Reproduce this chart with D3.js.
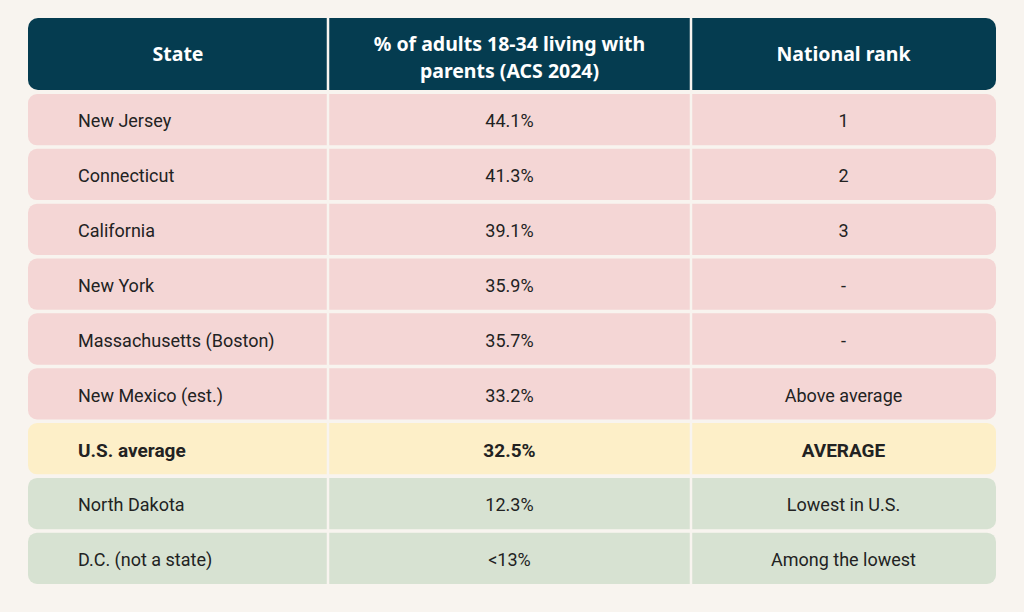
<!DOCTYPE html>
<html>
<head>
<meta charset="utf-8">
<script src="https://cdn.jsdelivr.net/npm/d3@7"></script>
<style>
  body { margin: 0; background: #f8f4ef; }
  svg { display: block; }
  .hdr { font-family: "Noto Sans", sans-serif; font-weight: 700; font-size: 19.5px; fill: #ffffff; }
  .cell { font-family: Roboto, "Noto Sans", sans-serif; font-size: 18px; fill: #222222; }
  .cell.bold { font-weight: 700; font-size: 19px; }
</style>
</head>
<body>
<div id="graphic"></div>
<script>
// table data
var headers = [["State"], ["% of adults 18-34 living with", "parents (ACS 2024)"], ["National rank"]];
var states = ["New Jersey", "Connecticut", "California", "New York", "Massachusetts (Boston)",
  "New Mexico (est.)", "U.S. average", "North Dakota", "D.C. (not a state)"];
var shares = ["44.1%", "41.3%", "39.1%", "35.9%", "35.7%", "33.2%", "32.5%", "12.3%", "<13%"];
var ranks = ["1", "2", "3", "-", "-", "Above average", "AVERAGE", "Lowest in U.S.", "Among the lowest"];
var groups = ["above", "above", "above", "above", "above", "above", "avg", "below", "below"];

var width = 1024, height = 612;
var left = 28, right = 996;
var colEdges = [28, 328, 691, 996];
var fills = { above: "#f4d6d5", avg: "#fdefc8", below: "#d7e2d2" };

var svg = d3.select("#graphic").append("svg")
  .attr("width", width).attr("height", height);

svg.append("rect").attr("width", width).attr("height", height).attr("fill", "#f8f4ef");

// header
svg.append("rect")
  .attr("x", left).attr("y", 18)
  .attr("width", right - left).attr("height", 72)
  .attr("rx", 10).attr("fill", "#053c50");

var y = d3.scaleBand()
  .domain(d3.range(states.length))
  .range([94, 584])
  .paddingInner(0.065)
  .paddingOuter(0);

var rows = svg.selectAll("g.row")
  .data(states.map((s, i) => ({ state: s, share: shares[i], rank: ranks[i], group: groups[i] })))
  .join("g")
  .attr("class", "row")
  .attr("transform", (d, i) => "translate(0," + y(i) + ")");

rows.append("rect")
  .attr("x", left)
  .attr("width", right - left)
  .attr("height", y.bandwidth())
  .attr("rx", 9)
  .attr("fill", d => fills[d.group]);

// column dividers
[colEdges[1], colEdges[2]].forEach(function(cx) {
  svg.append("line")
    .attr("x1", cx).attr("x2", cx)
    .attr("y1", 18).attr("y2", 584)
    .attr("stroke", "#f8f4ef").attr("stroke-width", 2.5);
});

var mid = (a, b) => (a + b) / 2;

// header text
headers.forEach(function(lines, c) {
  var t = svg.append("text")
    .attr("class", "hdr")
    .attr("text-anchor", "middle")
    .attr("x", mid(colEdges[c], colEdges[c + 1]));
  var cy = lines.length > 1 ? 57.5 - 13.5 : 54;
  lines.forEach(function(l, k) {
    t.append("tspan")
      .attr("x", mid(colEdges[c], colEdges[c + 1]))
      .attr("y", cy + k * 27)
      .attr("dy", "0.35em")
      .text(l);
  });
});

var cy = y.bandwidth() / 2 + 1.5;

rows.append("text")
  .attr("class", d => "cell" + (d.group == "avg" ? " bold" : ""))
  .attr("x", 78).attr("y", cy).attr("dy", "0.35em")
  .text(d => d.state);

rows.append("text")
  .attr("class", d => "cell" + (d.group == "avg" ? " bold" : ""))
  .attr("text-anchor", "middle")
  .attr("x", mid(colEdges[1], colEdges[2])).attr("y", cy).attr("dy", "0.35em")
  .text(d => d.share);

rows.append("text")
  .attr("class", d => "cell" + (d.group == "avg" ? " bold" : ""))
  .attr("text-anchor", "middle")
  .attr("x", mid(colEdges[2], colEdges[3])).attr("y", cy).attr("dy", "0.35em")
  .text(d => d.rank);
</script>
</body>
</html>
